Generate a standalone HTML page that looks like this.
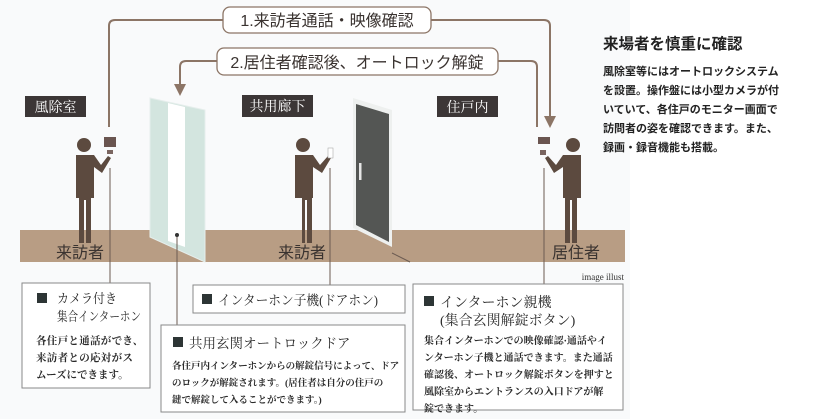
<!DOCTYPE html>
<html><head><meta charset="utf-8"><style>
body{margin:0;width:813px;height:419px;background:#fff;overflow:hidden;font-family:"Liberation Sans","Noto Sans CJK JP",sans-serif;}
</style></head><body>
<svg width="813" height="419" xmlns="http://www.w3.org/2000/svg" style="position:absolute;left:0;top:0">
<rect x="0" y="0" width="630" height="419" fill="#f9fafb"/>
<rect x="20" y="230" width="605" height="32" fill="#b89d84"/>
<g fill="none" stroke="#8c7566" stroke-width="2">
<path d="M109 127 V26 Q109 20 115 20 H223"/>
<path d="M431 20 H544 Q550 20 550 26 V118"/>
<path d="M217 61 H186 Q180 61 180 67 V86"/>
<path d="M498 61 H531 Q537 61 537 67 V127"/>
</g>
<path d="M544 116 L556 116 L550 128 Z" fill="#8c7566"/>
<path d="M174 84 L186 84 L180 96 Z" fill="#8c7566"/>
<rect x="223" y="7" width="208" height="26" rx="7" fill="#fff" stroke="#8c7566" stroke-width="1.3"/>
<text x="327" y="26" text-anchor="middle" font-size="16" fill="#3a3330">1.来訪者通話・映像確認</text>
<rect x="217" y="48" width="281" height="27" rx="7" fill="#fff" stroke="#8c7566" stroke-width="1.3"/>
<text x="357" y="68" text-anchor="middle" font-size="16" fill="#3a3330">2.居住者確認後、オートロック解錠</text>
<g font-family="Liberation Serif,Noto Serif CJK SC,serif" font-size="14" fill="#fff">
<rect x="25" y="96" width="61" height="21" fill="#3c3636"/><text x="55.5" y="112" text-anchor="middle">風除室</text>
<rect x="242" y="95" width="71" height="22" fill="#3c3636"/><text x="277.5" y="111" text-anchor="middle">共用廊下</text>
<rect x="437" y="96" width="61" height="21" fill="#3c3636"/><text x="467.5" y="112" text-anchor="middle">住戸内</text>
</g>
<polygon points="150,98 205,110 205,262 150,237" fill="#d3e5df" stroke="#e6eeec"/>
<polygon points="168,103 185,107 185,247 168,241" fill="#fff"/>
<polygon points="353,98 392,110 392,247 353,228" fill="#eef0ef"/>
<polygon points="356,104 389,114 389,242 356,225" fill="#545654"/>
<rect x="359" y="163" width="2.5" height="17" fill="#e6e6e6"/>
<g fill="#5c4a3f">
<circle cx="84" cy="145" r="7"/>
<path d="M76 155 H94 L101 165 L108 156 L111 158 L102 173 L94 167 V198 H91 V243 H86 V200 H84 V243 H79 V198 H76 Z"/>
<circle cx="303" cy="145" r="7"/>
<path d="M295 155 H313 L320 165 L328 156 L331 158 L322 173 L313 167 V198 H312 V243 H307 V200 H305 V243 H302 V198 H295 Z"/>
<circle cx="573" cy="145" r="7"/>
<path d="M581 155 H563 L556 165 L548 156 L545 158 L554 173 L563 167 V198 H565 V243 H570 V200 H572 V243 H577 V198 H581 Z"/>
</g>
<rect x="104" y="137" width="12" height="10" fill="#6a5550"/><rect x="107" y="150" width="6" height="4" fill="#7a6560"/>
<rect x="328" y="148" width="5" height="10" fill="#fff" stroke="#aaa" stroke-width=".6"/>
<rect x="538" y="137" width="12" height="7" fill="#6a5550"/><rect x="540" y="150" width="6" height="5" fill="#7a6560"/>
<g font-size="16" fill="#3a3330">
<text x="56" y="258">来訪者</text><text x="278" y="258">来訪者</text><text x="552" y="258">居住者</text>
</g>
<g stroke="#6b5b52" stroke-width="1">
<line x1="110" y1="168" x2="110" y2="283"/>
<line x1="177" y1="235" x2="177" y2="325"/>
<line x1="330" y1="168" x2="330" y2="285"/>
<line x1="544" y1="168" x2="544" y2="284"/>
<line x1="392" y1="253" x2="410" y2="262"/>
</g>
<circle cx="177" cy="235" r="2" fill="#333"/>
<text x="624" y="280" text-anchor="end" font-size="9" fill="#333" font-family="Liberation Serif,serif">image illust</text>
<g fill="#fff" stroke="#888" stroke-width="1">
<rect x="22" y="283" width="128" height="105"/>
<rect x="161" y="325" width="244" height="87"/>
<rect x="193" y="285" width="212" height="28"/>
<rect x="413" y="284" width="210" height="126"/>
</g>
<g font-family="Liberation Serif,Noto Serif CJK SC,serif" fill="#2a2a2a">
<rect x="37" y="293" width="10" height="10" fill="#2d3535"/>
<text x="57" y="303" font-size="13" textLength="60" lengthAdjust="spacingAndGlyphs">カメラ付き</text>
<text x="57" y="321" font-size="13" textLength="84" lengthAdjust="spacingAndGlyphs">集合インターホン</text>
<text x="36" y="344" font-size="10.5" font-weight="bold" letter-spacing="0.3">各住戸と通話ができ、</text>
<text x="36" y="361" font-size="10.5" font-weight="bold" letter-spacing="0.3">来訪者との応対がス</text>
<text x="36" y="378" font-size="10.5" font-weight="bold">ムーズにできます。</text>
<rect x="202" y="294" width="10" height="10" fill="#2d3535"/>
<text x="218" y="305" font-size="13.5" textLength="160" lengthAdjust="spacingAndGlyphs">インターホン子機(ドアホン)</text>
<rect x="173" y="337" width="10" height="10" fill="#2d3535"/>
<text x="189" y="348" font-size="13.5">共用玄関オートロックドア</text>
<text x="172" y="369" font-size="9.5" font-weight="bold">各住戸内インターホンからの解錠信号によって、ドア</text>
<text x="172" y="386" font-size="9.5" font-weight="bold">のロックが解錠されます。(居住者は自分の住戸の</text>
<text x="172" y="403" font-size="9.5" font-weight="bold">鍵で解錠して入ることができます。)</text>
<rect x="424" y="296" width="10" height="10" fill="#2d3535"/>
<text x="440" y="307" font-size="14">インターホン親機</text>
<text x="440" y="325" font-size="14">(集合玄関解錠ボタン)</text>
<text x="424" y="344" font-size="10" font-weight="bold">集合インターホンでの映像確認·通話やイ</text>
<text x="424" y="361" font-size="10" font-weight="bold">ンターホン子機と通話できます。また通話</text>
<text x="424" y="378" font-size="10" font-weight="bold">確認後、オートロック解錠ボタンを押すと</text>
<text x="424" y="395" font-size="10" font-weight="bold">風除室からエントランスの入口ドアが解</text>
<text x="424" y="412" font-size="10" font-weight="bold">錠できます。</text>
</g>
<text x="603" y="49" font-size="15.5" fill="#222" font-weight="bold">来場者を慎重に確認</text>
<g font-size="11" fill="#222" font-weight="bold">
<text x="603" y="75">風除室等にはオートロックシステム</text>
<text x="603" y="94">を設置。操作盤には小型カメラが付</text>
<text x="603" y="113">いていて、各住戸のモニター画面で</text>
<text x="603" y="132">訪問者の姿を確認できます。また、</text>
<text x="603" y="151">録画・録音機能も搭載。</text>
</g>
</svg>
</body></html>
